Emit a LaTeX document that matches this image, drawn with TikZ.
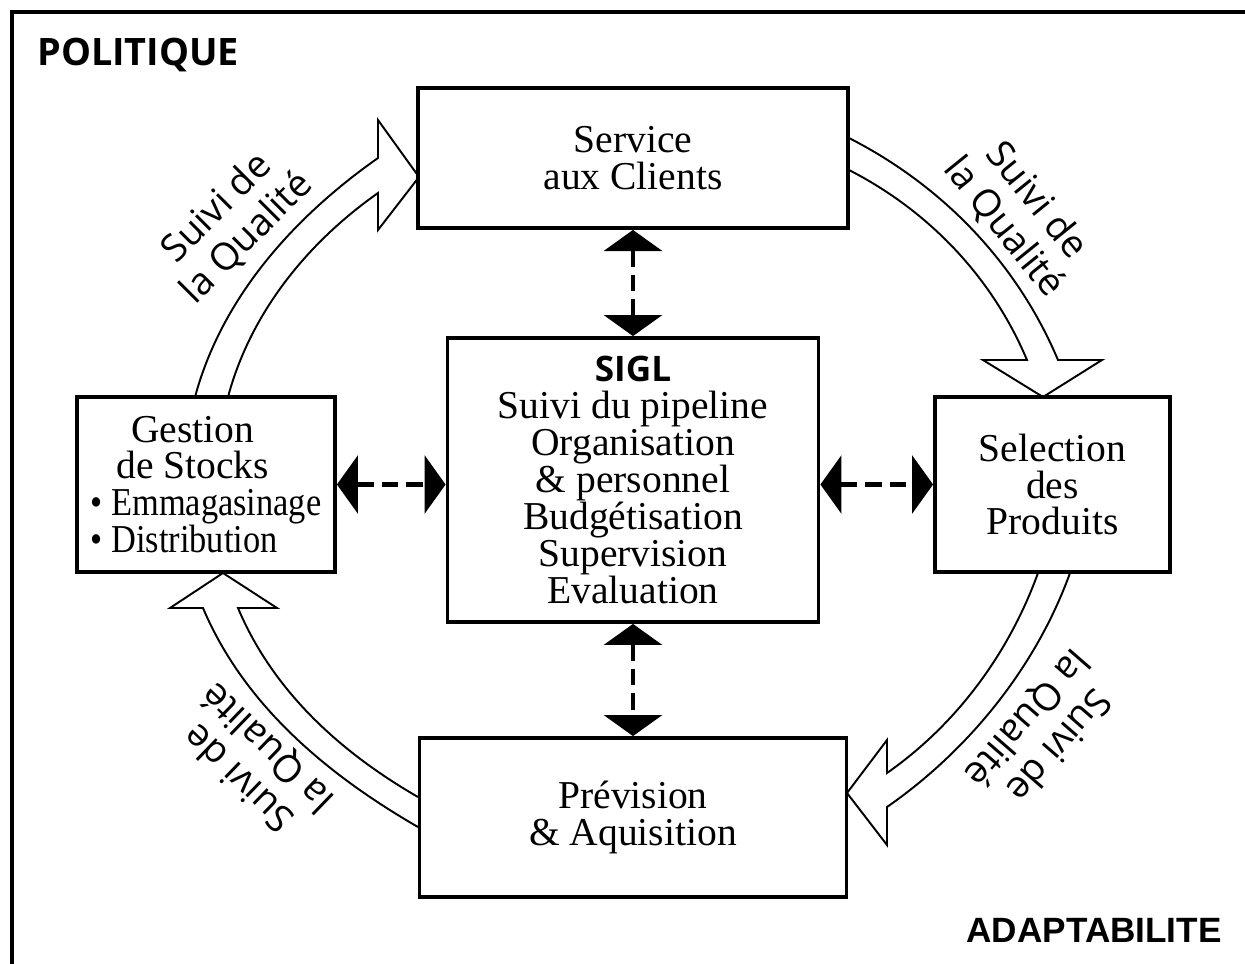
\documentclass[tikz,border=0pt]{standalone}
\usepackage{fontspec}
\usepackage{graphicx}
\setmainfont{Liberation Serif}
\newfontfamily\osans{Open Sans}
\newfontfamily\lsans{Liberation Sans}
\usetikzlibrary{arrows.meta,backgrounds}
\begin{document}
\begin{tikzpicture}[x=0.02cm,y=-0.02cm,
  box/.style={draw, line width=2.2pt, fill=white, align=center, inner sep=0pt,
    font=\fontsize{22.5pt}{21pt}\selectfont},
  link/.style={line width=2.4pt, dash pattern=on 9.5pt off 4.5pt,
    {Triangle[length=12pt,width=33pt]}-{Triangle[length=12pt,width=33pt]}},
  flow/.style={line width=1.1pt, line join=miter},
  qual/.style={font=\osans\fontsize{21.5pt}{24pt}\selectfont, align=center, inner sep=0pt},
  cornerlab/.style={inner sep=0pt}
]
\useasboundingbox (0,0) rectangle (1245,964);
% frame
\draw[line width=2.5pt, line join=miter] (12,964) -- (12,12) -- (1245,12);

% boxes
\node[box, minimum width=8.6cm, minimum height=2.8cm] (svc) at (633,158) {Service\\aux Clients};
\node[box, minimum width=7.42cm, minimum height=5.68cm] (sigl) at (633,480)
  {{\osans\bfseries\fontsize{20pt}{21pt}\selectfont SIGL}\\Suivi du pipeline\\Organisation\\\& personnel\\Budgétisation\\Supervision\\Evaluation};
\node[box, align=left, minimum width=5.16cm, minimum height=3.5cm] (stk) at (206,484.5)
  {\makebox[4.08cm]{Gestion}\\\makebox[4.08cm]{de Stocks}\\\scalebox{0.87}[1]{\textbullet\ Emmagasinage}\\\scalebox{0.87}[1]{\textbullet\ Distribution}};
\node[box, minimum width=4.7cm, minimum height=3.5cm] (sel) at (1052.5,484.5) {Selection\\des\\Produits};
\node[box, minimum width=8.54cm, minimum height=3.18cm] (prev) at (633,817.5) {Prévision\\\& Aquisition};

% dashed double arrows
\draw[link] (svc.south) -- (sigl.north);
\draw[link] (sigl.south) -- (prev.north);
\draw[link] (stk.east) -- (stk.east -| sigl.west);
\draw[link] (sel.west -| sigl.east) -- (sel.west);

% curved block arrows
\begin{scope}[on background layer]
  \fill[white] (0,0) rectangle (1245,964);
  % stocks -> service
  \fill[white] (195,397) .. controls (222,297) and (294,217) .. (378,158) -- (378,120) -- (419,177) -- (378,230) -- (378,193) .. controls (307,243) and (250.5,313) .. (228,397) -- cycle;
  \draw[flow] (195,397) .. controls (222,297) and (294,217) .. (378,158) -- (378,120) -- (419,177) -- (378,230) -- (378,193) .. controls (307,243) and (250.5,313) .. (228,397);
  % service -> selection
  \fill[white] (849,138) .. controls (943,186) and (1017,263) .. (1058,360) -- (1102,360) -- (1043,397) -- (983,360) -- (1027,360) .. controls (992,277) and (929,211) .. (849,170) -- cycle;
  \draw[flow] (849,138) .. controls (943,186) and (1017,263) .. (1058,360) -- (1102,360) -- (1043,397) -- (983,360) -- (1027,360) .. controls (992,277) and (929,211) .. (849,170);
  % selection -> prevision
  \fill[white] (1070,573) .. controls (1036,667) and (969,750) .. (887,807) -- (887,845) -- (847,793) -- (887,740) -- (887,773) .. controls (957,724) and (1009,653) .. (1038,573) -- cycle;
  \draw[flow] (1070,573) .. controls (1036,667) and (969,750) .. (887,807) -- (887,845) -- (847,793) -- (887,740) -- (887,773) .. controls (957,724) and (1009,653) .. (1038,573);
  % prevision -> stocks
  \fill[white] (418,827) .. controls (327,774.5) and (244,705) .. (203,608) -- (170,608) -- (223,573) -- (277,608) -- (238,608) .. controls (273,691) and (340,752) .. (418,797) -- cycle;
  \draw[flow] (418,827) .. controls (327,774.5) and (244,705) .. (203,608) -- (170,608) -- (223,573) -- (277,608) -- (238,608) .. controls (273,691) and (340,752) .. (418,797);
\end{scope}

% quality labels
\node[qual, rotate=45] (q1) at (232,223) {Suivi de\\la Qualité};
\node[qual, rotate=-51] (q2) at (1020,214) {Suivi de\\la Qualité};
\node[qual, rotate=-131] (q3) at (1042,731) {Suivi de\\la Qualité};
\node[qual, rotate=136] (q4) at (254,762) {Suivi de\\la Qualité};

% corner labels
\node[cornerlab, anchor=base west, font=\osans\bfseries\fontsize{21.5pt}{21.5pt}\selectfont] (pol) at (37,65) {POLITIQUE};
\node[cornerlab, anchor=base east, font=\lsans\bfseries\fontsize{20pt}{20pt}\selectfont] (ada) at (1222,942) {ADAPTABILITE};
\end{tikzpicture}
\end{document}
